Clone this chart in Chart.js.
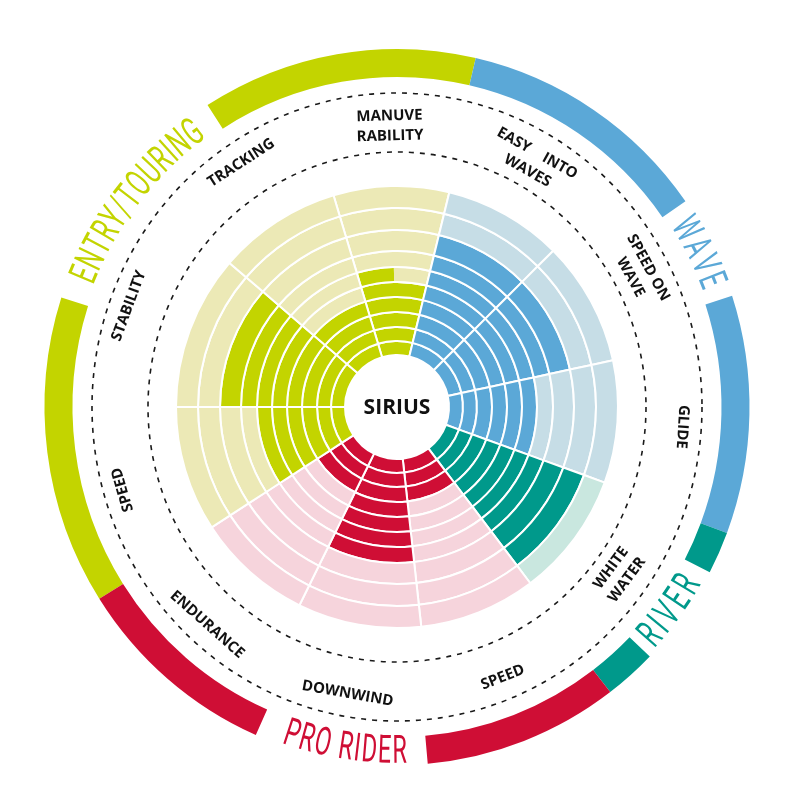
<!DOCTYPE html>
<html>
<head>
<meta charset="utf-8">
<script src="https://cdn.jsdelivr.net/npm/chart.js@4/dist/chart.umd.min.js"></script>
<style>
html,body{margin:0;padding:0;background:#ffffff;}
#box{position:relative;width:800px;height:800px;}
</style>
</head>
<body>
<div id="box"><canvas id="chart" width="800" height="800"></canvas></div>
<script>
// ---------------- data ----------------
const categories = ['Manuverability','Easy into waves','Speed on wave','Glide','White water','Speed','Downwind','Endurance','Speed','Stability','Tracking'];
const categoryLabelLines = [['MANUVE','RABILITY'],['EASY    INTO','WAVES'],['SPEED ON','WAVE'],['GLIDE'],['WHITE','WATER'],['SPEED'],['DOWNWIND'],['ENDURANCE'],['SPEED'],['STABILITY'],['TRACKING']];
const categoryGroup = ['entry','wave','wave','wave','river','pro','pro','pro','entry','entry','entry'];
const ratings = [5.5, 8, 8, 6, 9, 3, 7, 3, 6, 8, 4];
const levels = [1,2,3,4,5,6,7,8,9,10];
const groupKeys = ['entry','wave','river','pro'];
const groupNames = ['ENTRY/TOURING','WAVE','RIVER','PRO RIDER'];
const modelName = 'SIRIUS';

// ---------------- layout / style constants ----------------
const CX = 397, CY = 407;
const R_HOLE = 52, R_OUT = 221;
const ROTATION = -16.7;
const SECTOR_SPAN = [30.4,31.3,32.8,32.2,32.9,30.8,32.5,30.8,33,40.7,32.6];
const RING_WEIGHT = [14,14,15,15,15,15,16,21,22,22]; // inner -> outer
const PALETTE = {
  entry: {dark:'#c3d400', light:'#ece9b6'},
  wave:  {dark:'#5ba8d7', light:'#c6dde6'},
  river: {dark:'#00998b', light:'#c9e7df'},
  pro:   {dark:'#cf0e35', light:'#f6d4dc'}
};
const BAND_ARCS = [
  ['entry', -122.4, -72.2], ['entry', -32.5, 12.9],
  ['wave', 12.9, 54.9], ['wave', 71.9, 110.6],
  ['river', 110.6, 117.5], ['river', 134.2, 142.8],
  ['pro', 142.8, 175], ['pro', 203.6, 237.6]
];
const BAND_TEXT = {
  entry: {center:-52.2, span:30.3, outward:true},
  wave:  {center:63.6, span:9.6, outward:true},
  river: {center:126.3, span:10.6, outward:false},
  pro:   {center:188.8, span:18.5, outward:false}
};
const BAND_RX = 338.5, BAND_RY = 344, BAND_W = 28;
const LABEL_RX = 286, LABEL_RY = 291, LABEL_LH = 20;

const toRad = d => d * Math.PI / 180;
const sectorStart = [];
(function(){ let a = ROTATION; SECTOR_SPAN.forEach(s => { sectorStart.push(a); a += s; }); })();

function cellColor(ctx, level) {
  const i = ctx.dataIndex;
  const pal = PALETTE[categoryGroup[i]];
  const f = Math.max(0, Math.min(1, ratings[i] - (level - 1)));
  if (f >= 1) return pal.dark;
  if (f <= 0) return pal.light;
  const area = ctx.chart.chartArea;
  const cx = (area.left + area.right) / 2, cy = (area.top + area.bottom) / 2;
  const g = ctx.chart.ctx.createConicGradient(toRad(sectorStart[i] - 90), cx, cy);
  const stop = f * SECTOR_SPAN[i] / 360;
  g.addColorStop(0, pal.dark);
  g.addColorStop(stop, pal.dark);
  g.addColorStop(stop + 0.0005, pal.light);
  g.addColorStop(1, pal.light);
  return g;
}

const datasets = levels.slice().reverse().map(level => ({
  label: 'Level ' + level,
  data: SECTOR_SPAN.slice(),
  weight: RING_WEIGHT[level - 1],
  backgroundColor: ctx => cellColor(ctx, level),
  borderColor: '#ffffff',
  borderWidth: 2
}));

function drawArcText(c, text, centerDeg, spanDeg, rx, ry, outward, color) {
  const hScale = 0.6;
  c.save();
  c.font = '400 39px Roboto';
  c.fillStyle = color;
  c.textAlign = 'center';
  c.textBaseline = 'middle';
  const chars = [...text];
  const w = chars.map(ch => c.measureText(ch).width * hScale);
  const rAvg = (rx + ry) / 2;
  let natural = 0;
  for (let i = 0; i < chars.length - 1; i++) natural += w[i];
  natural += w[chars.length - 1] / 2 - w[0] / 2;
  const s = (toRad(spanDeg) * rAvg - natural) / (chars.length - 1);
  const dir = outward ? 1 : -1;
  const startDeg = centerDeg - dir * spanDeg / 2;
  let cum = 0;
  chars.forEach((ch, i) => {
    const len = cum + w[i] / 2 - w[0] / 2;
    cum += w[i] + s;
    const th = toRad(startDeg) + dir * len / rAvg;
    const x = CX + rx * Math.sin(th), y = CY - ry * Math.cos(th);
    c.save();
    c.translate(x, y);
    c.rotate(outward ? th : th + Math.PI);
    c.scale(hScale, 1);
    c.fillText(ch, 0, 2);
    c.restore();
  });
  c.restore();
}

const decor = {
  id: 'decor',
  afterDraw(chart) {
    const c = chart.ctx;
    // centre title
    c.save();
    c.fillStyle = '#ffffff';
    c.beginPath(); c.arc(CX, CY, R_HOLE - 1, 0, Math.PI * 2); c.fill();
    c.fillStyle = '#111111';
    c.font = 'bold 21px "Open Sans"';
    c.textAlign = 'center'; c.textBaseline = 'middle';
    c.fillText(modelName, CX, CY + 1);
    c.restore();

    // dashed guide ellipses
    c.save();
    c.strokeStyle = '#1a1a1a';
    c.lineWidth = 1.6;
    c.setLineDash([5, 6]);
    c.beginPath(); c.ellipse(CX, CY, 249, 255, 0, 0, Math.PI * 2); c.stroke();
    c.beginPath(); c.ellipse(CX, CY, 305, 314, 0, 0, Math.PI * 2); c.stroke();
    c.restore();

    // category labels
    c.save();
    c.fillStyle = '#111111';
    c.font = 'bold 15px "Open Sans"';
    c.textAlign = 'center'; c.textBaseline = 'middle';
    categoryLabelLines.forEach((lines, i) => {
      let mid = sectorStart[i] + SECTOR_SPAN[i] / 2;
      let n = ((mid + 180) % 360 + 360) % 360 - 180;
      const outward = n >= -112 && n <= 100;
      const th = toRad(mid);
      const x = CX + LABEL_RX * Math.sin(th), y = CY - LABEL_RY * Math.cos(th);
      c.save();
      c.translate(x, y);
      c.rotate(outward ? th : th + Math.PI);
      lines.forEach((ln, j) => {
        const off = outward ? j * LABEL_LH : -(lines.length - 1 - j) * LABEL_LH;
        c.fillText(ln, 0, off);
      });
      c.restore();
    });
    c.restore();

    // outer group bands
    c.save();
    c.lineWidth = BAND_W;
    c.lineCap = 'butt';
    BAND_ARCS.forEach(([g, a0, a1]) => {
      c.strokeStyle = PALETTE[g].dark;
      c.beginPath();
      c.ellipse(CX, CY, BAND_RX, BAND_RY, 0, toRad(a0 - 90), toRad(a1 - 90));
      c.stroke();
    });
    c.restore();

    groupKeys.forEach((g, k) => {
      const t = BAND_TEXT[g];
      drawArcText(c, groupNames[k], t.center, t.span, BAND_RX, BAND_RY, t.outward, PALETTE[g].dark);
    });
  }
};

new Chart(document.getElementById('chart'), {
  type: 'doughnut',
  data: { labels: categories, datasets: datasets },
  options: {
    responsive: false,
    animation: false,
    events: [],
    rotation: ROTATION,
    circumference: 360,
    radius: R_OUT,
    cutout: (R_HOLE / R_OUT * 100) + '%',
    layout: { padding: { left: 0, right: 800 - 2 * CX, top: 2 * CY - 800, bottom: 0 } },
    plugins: { legend: { display: false }, tooltip: { enabled: false } }
  },
  plugins: [decor]
});
</script>
</body>
</html>
